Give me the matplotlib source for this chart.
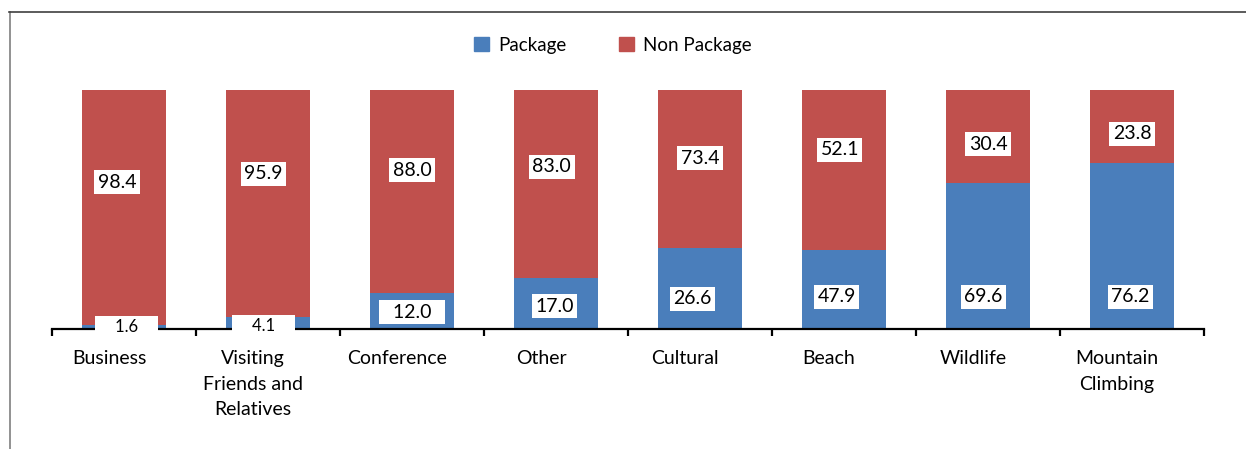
import matplotlib.pyplot as plt
import matplotlib.transforms as mtransforms
import numpy as np

# categories and values
categories = ["Business", "Visiting\nFriends and\nRelatives", "Conference", "Other",
              "Cultural", "Beach", "Wildlife", "Mountain\nClimbing"]
package_labels = [1.6, 4.1, 12.0, 17.0, 26.6, 47.9, 69.6, 76.2]
non_package_labels = [98.4, 95.9, 88.0, 83.0, 73.4, 52.1, 30.4, 23.8]
# blue segment share as drawn in the source picture (percent of bar)
package_share = [1.7, 5.0, 15.0, 21.5, 34.0, 33.2, 61.1, 69.5]

blue = '#4a7ebb'
red = '#c0504d'

plt.rcParams['font.family'] = ['Lato', 'DejaVu Sans']

W, H = 1246, 449
fig = plt.figure(figsize=(W / 100, H / 100), dpi=100)
ax = fig.add_axes([52 / W, 120 / H, 1152 / W, 239 / H])

x = np.arange(len(categories))
pkg = np.array(package_share)
ax.bar(x, pkg, width=0.583, color=blue, zorder=2)
ax.bar(x, 100 - pkg, bottom=pkg, width=0.583, color=red, zorder=2)

ax.set_xlim(-0.5, len(categories) - 0.5)
ax.set_ylim(0, 100)

# label placement (percent of axis height)
np_label_y = [61.5, 65.0, 66.5, 67.8, 71.5, 75.0, 77.4, 81.6]
pk_label_y = [0.8, 1.2, 7.1, 9.6, 12.6, 13.4, 13.4, 13.4]
np_dx = [-0.05, -0.03, 0, -0.03, 0, -0.03, 0, 0]
pk_dx = [0.02, -0.03, 0, -0.01, -0.05, -0.05, -0.03, -0.01]

for i in range(len(categories)):
    ax.text(x[i] + np_dx[i], np_label_y[i], f"{non_package_labels[i]:.1f}",
            ha='center', va='center', fontsize=14, zorder=4,
            bbox=dict(boxstyle='square,pad=0.18', fc='white', ec='none'))
    txt = f"{package_labels[i]:.1f}"
    fs = 14
    if i < 2:
        txt = "    " + txt + "    "
        fs = 12
    elif i == 2:
        txt = "  " + txt + "  "
    ax.text(x[i] + pk_dx[i], pk_label_y[i], txt,
            ha='center', va='center', fontsize=fs, zorder=4,
            bbox=dict(boxstyle='square,pad=0.18', fc='white', ec='none'))

# axis styling
for s in ['left', 'right', 'top']:
    ax.spines[s].set_visible(False)
ax.spines['bottom'].set_linewidth(1.6)
ax.spines['bottom'].set_zorder(3)
ax.set_yticks([])
ax.set_xticks(np.arange(-0.5, len(categories)), minor=False)
ax.set_xticklabels([])
ax.tick_params(axis='x', which='major', length=5, width=1.6, direction='out')
ax.set_xticks(x, minor=True)
ax.set_xticklabels(categories, minor=True, fontsize=14, linespacing=1.62)
ax.tick_params(axis='x', which='minor', length=0, pad=15)
# category labels sit a little left of the bar centres in the original
shift = mtransforms.ScaledTranslation(-15 / 100, 0, fig.dpi_scale_trans)
for lab in ax.get_xticklabels(minor=True):
    lab.set_transform(lab.get_transform() + shift)

# legend
handles = [plt.Rectangle((0, 0), 1, 1, color=blue), plt.Rectangle((0, 0), 1, 1, color=red)]
fig.legend(handles, ["Package", "Non Package"], loc='center', bbox_to_anchor=(613 / W, 1 - 45 / H),
           ncol=2, frameon=False, fontsize=13.5, handlelength=0.8, handleheight=0.8,
           handletextpad=0.5, columnspacing=2.8)

# chart frame
fig.add_artist(plt.Line2D([9.5 / W, 9.5 / W], [0, 1 - 12 / H], color='#7f7f7f', lw=1.2))
fig.add_artist(plt.Line2D([9 / W, 1], [1 - 12 / H, 1 - 12 / H], color='#404040', lw=1.2))

fig.savefig('out.png', dpi=100)
